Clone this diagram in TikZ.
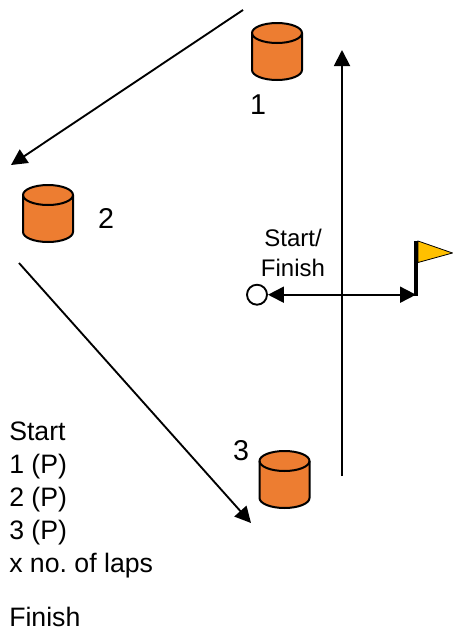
\documentclass[tikz,border=0pt]{standalone}
\usepackage{fontspec}
\setmainfont{Liberation Sans}
\usetikzlibrary{arrows.meta}
\definecolor{drum}{HTML}{ED7D31}
\definecolor{flagc}{HTML}{FFC000}
\tikzset{
  barrel/.pic={
    \path[fill=drum,draw=black,line width=1.5pt,line join=round]
      (-25,-18.5) -- (-25,18.5) arc[start angle=180,end angle=0,x radius=25,y radius=10]
      -- (25,-18.5) arc[start angle=0,end angle=-180,x radius=25,y radius=10] -- cycle;
    \path[draw=black,line width=1.5pt]
      (-25,-18.5) arc[start angle=180,end angle=0,x radius=25,y radius=10];
  },
  conn/.style={line width=1.4pt,draw=black},
  numlabel/.style={font=\fontsize{21.5pt}{24pt}\selectfont,inner sep=0pt},
  lab/.style={font=\fontsize{20pt}{24.75pt}\selectfont\frenchspacing,inner sep=0pt},
  smalllab/.style={font=\fontsize{18pt}{22.5pt}\selectfont,inner sep=0pt,align=center}
}
\begin{document}
\begin{tikzpicture}[x=0.75pt,y=-0.75pt,>={Triangle[length=12pt,width=12pt]}]
\useasboundingbox (0,0) rectangle (453,632);
\pic (b1) at (277,51.5) {barrel};
\pic (b2) at (48,213.5) {barrel};
\pic (b3) at (284.5,479.5) {barrel};
\node[numlabel] (n1) at (258,105) {1};
\node[numlabel] (n2) at (106,218.5) {2};
\node[numlabel] (n3) at (241,451) {3};
\coordinate (a1s) at (243,10);
\coordinate (a1e) at (11,165);
\coordinate (a2s) at (19,263);
\coordinate (a2e) at (251,523);
\coordinate (a3s) at (342,476);
\coordinate (a3e) at (342,50);
\draw[conn,->] (a1s) -- (a1e);
\draw[conn,->] (a2s) -- (a2e);
\draw[conn,->] (a3s) -- (a3e);
\node[circle,draw=black,line width=1.4pt,fill=white,minimum size=15pt,inner sep=0pt] (start) at (257,294.7) {};
\coordinate (poleb) at (416,296);
\coordinate (polet) at (416,241);
\coordinate (polem) at (416,294.7);
\draw[line width=3pt] (poleb) -- (polet);
\draw[conn,<->] (start) -- (polem);
\draw[draw=black,line width=.6pt,fill=flagc] (418,241) -- (452.5,253) -- (418,262.5) -- cycle;
\node[smalllab] (sf) at (293,253) {Start/\\Finish};
\node[lab,anchor=north west,align=left] (list) at (9,421.5) {Start\\1 (P)\\2 (P)\\3 (P)\\x no. of laps\\[16pt]Finish};
\end{tikzpicture}
\end{document}
